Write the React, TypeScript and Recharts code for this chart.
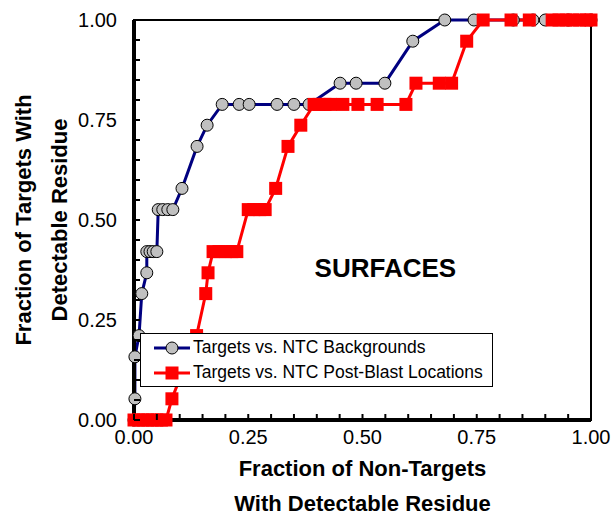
import React from 'react';
import { LineChart, Line, XAxis, YAxis, ReferenceArea, ReferenceDot } from 'recharts';

// Targets vs. NTC Backgrounds (fraction of non-targets, fraction of targets)
const bgX = [0, 0.002, 0.002, 0.011, 0.017, 0.028, 0.028, 0.035, 0.042, 0.05, 0.053, 0.063, 0.074, 0.085, 0.105, 0.138, 0.16, 0.193, 0.23, 0.252, 0.313, 0.35, 0.383, 0.451, 0.486, 0.549, 0.61, 0.68, 0.744, 0.83, 0.873, 0.9, 0.95, 1];
const bgY = [0, 0.053, 0.158, 0.211, 0.316, 0.368, 0.421, 0.421, 0.421, 0.421, 0.526, 0.526, 0.526, 0.526, 0.579, 0.684, 0.737, 0.789, 0.789, 0.789, 0.789, 0.789, 0.789, 0.842, 0.842, 0.842, 0.947, 1, 1, 1, 1, 1, 1, 1];

// Targets vs. NTC Post-Blast Locations
const pbX = [0, 0.01, 0.02, 0.03, 0.04, 0.05, 0.06, 0.07, 0.083, 0.137, 0.157, 0.162, 0.173, 0.186, 0.2, 0.214, 0.225, 0.25, 0.262, 0.275, 0.287, 0.31, 0.337, 0.365, 0.394, 0.405, 0.418, 0.43, 0.457, 0.49, 0.532, 0.595, 0.617, 0.668, 0.695, 0.728, 0.764, 0.825, 0.865, 0.915, 0.93, 0.945, 0.96, 0.975, 0.99, 1];
const pbY = [0, 0, 0, 0, 0, 0, 0, 0, 0.053, 0.211, 0.316, 0.368, 0.421, 0.421, 0.421, 0.421, 0.421, 0.526, 0.526, 0.526, 0.526, 0.579, 0.684, 0.737, 0.789, 0.789, 0.789, 0.789, 0.789, 0.789, 0.789, 0.789, 0.842, 0.842, 0.842, 0.947, 1, 1, 1, 1, 1, 1, 1, 1, 1, 1];

const ticks = [0, 0.05, 0.1, 0.15, 0.2, 0.25, 0.3, 0.35, 0.4, 0.45, 0.5, 0.55, 0.6, 0.65, 0.7, 0.75, 0.8, 0.85, 0.9, 0.95, 1];
const majorTicks = [0, 0.25, 0.5, 0.75, 1];
const seriesNames = ['Targets vs. NTC Backgrounds', 'Targets vs. NTC Post-Blast Locations'];

const bgData = bgX.map((x, i) => ({ x, y: bgY[i] }));
const pbData = pbX.map((x, i) => ({ x, y: pbY[i] }));

const FONT = 'Arial, "Liberation Sans", sans-serif';
const NAVY = '#000080';
const RED = '#ff0000';

const isMajor = (v: number) => majorTicks.some((m) => Math.abs(m - v) < 1e-6);

// ticks point inwards, labels only on the quarters
const XTick = (props: any) => {
  const { x, y, payload } = props;
  return (
    <g>
      <line x1={x} y1={y} x2={x} y2={y - 6} stroke="#000" strokeWidth={2} />
      {isMajor(payload.value) && (
        <text x={x} y={y + 24} textAnchor="middle" fontSize={20} fontFamily={FONT} fill="#000">
          {payload.value.toFixed(2)}
        </text>
      )}
    </g>
  );
};

const YTick = (props: any) => {
  const { x, y, payload } = props;
  return (
    <g>
      <line x1={x} y1={y} x2={x + 6} y2={y} stroke="#000" strokeWidth={2} />
      {isMajor(payload.value) && (
        <text x={x - 17} y={y + 7} textAnchor="end" fontSize={20} fontFamily={FONT} fill="#000">
          {payload.value.toFixed(2)}
        </text>
      )}
    </g>
  );
};

const XTitle = (props: any) => {
  const { x, y, width } = props.viewBox;
  const cx = x + width / 2;
  return (
    <g fontSize={22} fontWeight="bold" fontFamily={FONT} fill="#000">
      <text x={cx} y={y + 56} textAnchor="middle">Fraction of Non-Targets</text>
      <text x={cx} y={y + 91} textAnchor="middle">With Detectable Residue</text>
    </g>
  );
};

const YTitle = (props: any) => {
  const { y, height } = props.viewBox;
  const cy = y + height / 2;
  return (
    <g fontSize={22} fontWeight="bold" fontFamily={FONT} fill="#000">
      <text x={31} y={cy} textAnchor="middle" transform={`rotate(-90, 31, ${cy})`}>Fraction of Targets With</text>
      <text x={67} y={cy} textAnchor="middle" transform={`rotate(-90, 67, ${cy})`}>Detectable Residue</text>
    </g>
  );
};

const squareDot = (props: any) => {
  const { cx, cy, index } = props;
  return <rect key={`sq-${index}`} x={cx - 6.5} y={cy - 6.5} width={13} height={13} fill={RED} />;
};

const LegendBox = () => (
  <div
    style={{
      position: 'absolute',
      left: 140,
      top: 333,
      width: 351,
      height: 52,
      border: '1px solid #000',
      background: '#fff',
      fontFamily: FONT,
      fontSize: 17.5,
    }}
  >
    {seriesNames.map((name, i) => (
      <div key={name} style={{ display: 'flex', alignItems: 'center', height: 25, marginTop: i === 0 ? 1 : 0 }}>
        <svg width={40} height={20} style={{ marginLeft: 11, marginRight: 1 }}>
          <line x1={2} y1={10} x2={38} y2={10} stroke={i === 0 ? NAVY : RED} strokeWidth={3} />
          {i === 0 ? (
            <circle cx={20} cy={10} r={6} fill="#c0c0c0" stroke="#000" strokeWidth={1} />
          ) : (
            <rect x={13.5} y={3.5} width={13} height={13} fill={RED} />
          )}
        </svg>
        <span>{name}</span>
      </div>
    ))}
  </div>
);

export default function App() {
  return (
    <div style={{ position: 'absolute', left: 0, top: 0, width: 614, height: 516, background: '#fff' }}>
      <LineChart width={614} height={516} margin={{ top: 20, right: 23, bottom: 0, left: 0 }}>
        <XAxis
          type="number"
          dataKey="x"
          domain={[0, 1]}
          ticks={ticks}
          interval={0}
          tickSize={0}
          tickMargin={0}
          tickLine={false}
          tick={<XTick />}
          height={96}
          axisLine={{ stroke: '#000', strokeWidth: 4 }}
          label={{ content: XTitle }}
        />
        <YAxis
          type="number"
          dataKey="y"
          domain={[0, 1]}
          ticks={ticks}
          interval={0}
          tickSize={0}
          tickMargin={0}
          tickLine={false}
          tick={<YTick />}
          width={134}
          axisLine={{ stroke: '#000', strokeWidth: 4 }}
          label={{ content: YTitle }}
        />
        <ReferenceArea x1={0} x2={1} y1={0} y2={1} fill="none" stroke="#000" strokeWidth={2} />
        <ReferenceDot
          x={0.55}
          y={0.38}
          r={0}
          fill="none"
          stroke="none"
          label={{ value: 'SURFACES', position: 'center', fontSize: 26, fontWeight: 'bold', fontFamily: FONT, fill: '#000' }}
        />
        <Line
          data={bgData}
          dataKey="y"
          stroke={NAVY}
          strokeWidth={3}
          dot={{ r: 6, fill: '#c0c0c0', stroke: '#000', strokeWidth: 1 }}
          isAnimationActive={false}
        />
        <Line
          data={pbData}
          dataKey="y"
          stroke={RED}
          strokeWidth={3}
          dot={squareDot}
          isAnimationActive={false}
        />
      </LineChart>
      <LegendBox />
    </div>
  );
}
